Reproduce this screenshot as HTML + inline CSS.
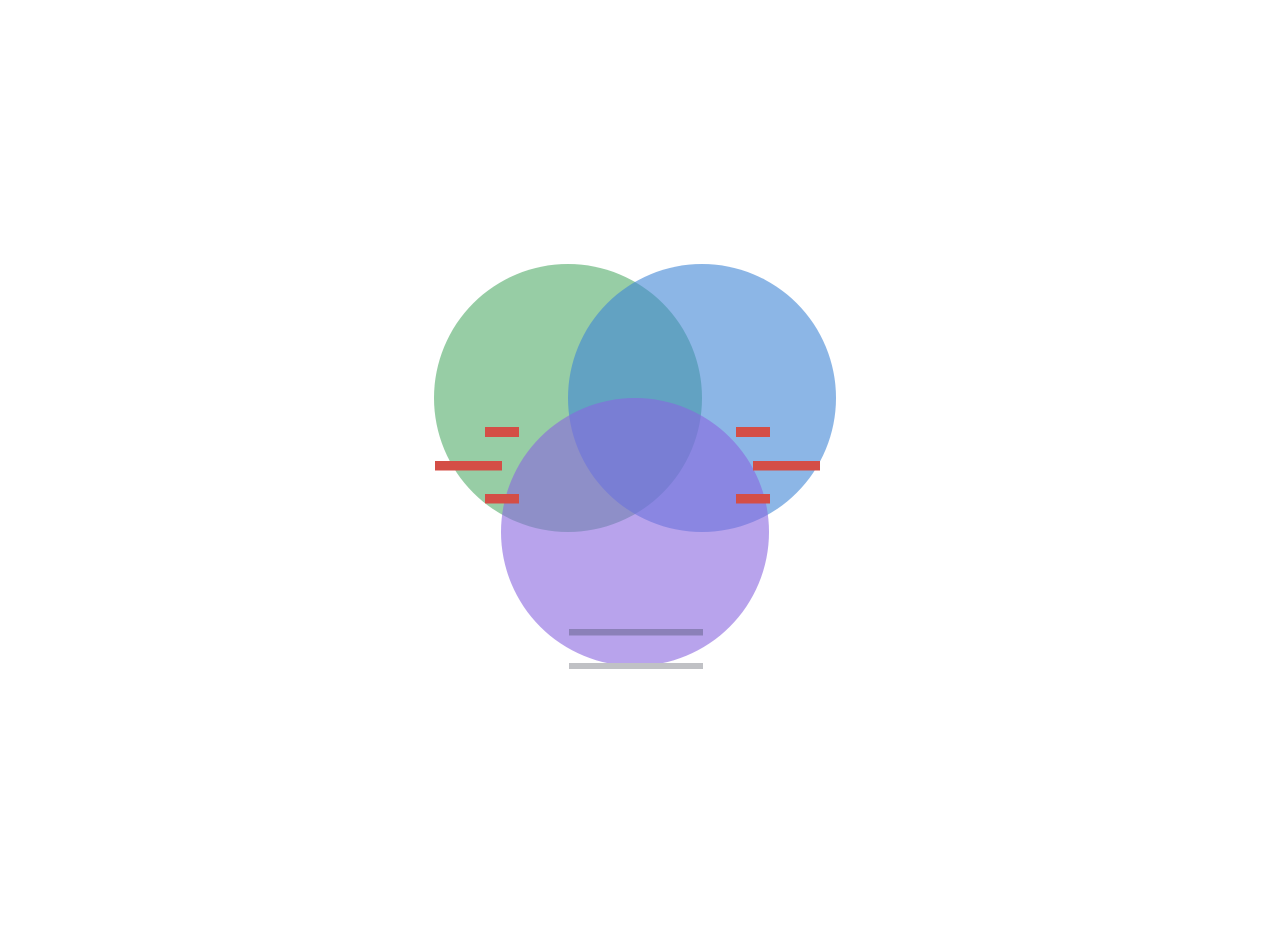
<!DOCTYPE html>
<html><head><meta charset="utf-8"><style>
html,body{margin:0;padding:0;background:#fff;width:1276px;height:952px;overflow:hidden;font-family:"Liberation Sans",sans-serif}
</style></head><body>
<svg width="1276" height="952" viewBox="0 0 1276 952">
<g id="circles"></g>
<g id="labels"></g>
</svg>
<script>
const setNames = ["Set A","Set B","Set C"];
const setColors = ["rgb(82,172,105)","rgb(63,133,213)","rgb(137,102,223)"];
const setSizes = [1,1,1];
const cx = [568,702,635], cy = [398,398,532], R = 134;
const NS = "http://www.w3.org/2000/svg";
const cg = document.getElementById('circles');
setNames.forEach((n,i)=>{
  const c = document.createElementNS(NS,'circle');
  c.setAttribute('cx',cx[i]); c.setAttribute('cy',cy[i]);
  c.setAttribute('r',R*Math.sqrt(setSizes[i]));
  c.setAttribute('fill',setColors[i]); c.setAttribute('fill-opacity','0.6');
  
  
  cg.appendChild(c);
});
const lg = document.getElementById('labels');
const bars = [[485,427,34,10,"#d44e46"],[435,461,67,9.5,"#d44e46"],[485,494,34,9.5,"#d44e46"],
[736,427,34,10,"#d44e46"],[753,461,67,9.5,"#d44e46"],[736,494,34,9.5,"#d44e46"],
[569,629,134,6.5,"#8b80b8"],[569,663,134,6,"#c0c1c5"]];
bars.forEach(b=>{
  const r = document.createElementNS(NS,'rect');
  r.setAttribute('x',b[0]); r.setAttribute('y',b[1]);
  r.setAttribute('width',b[2]); r.setAttribute('height',b[3]);
  r.setAttribute('fill',b[4]);
  
  
  lg.appendChild(r);
});
</script>
</body></html>
